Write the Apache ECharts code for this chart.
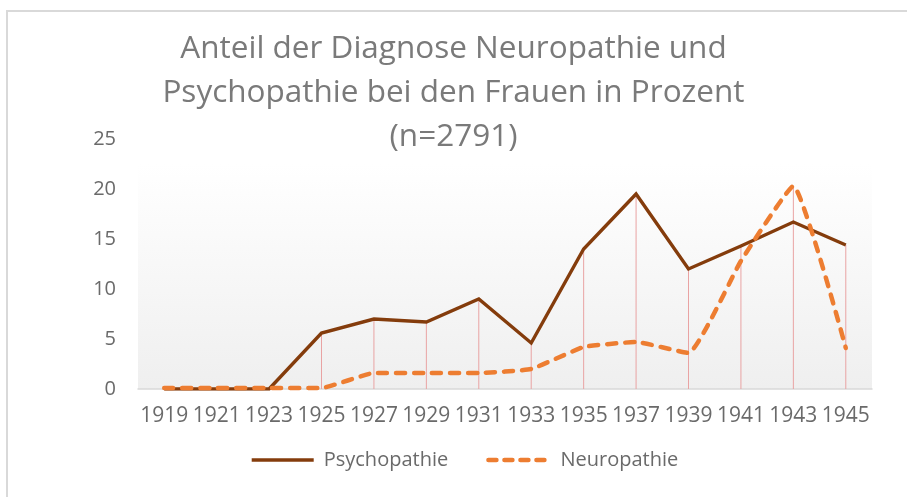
<!DOCTYPE html>
<html>
<head>
<meta charset="utf-8">
<script src="https://cdn.jsdelivr.net/npm/echarts@6/dist/echarts.min.js"></script>
<style>
html,body{margin:0;padding:0;background:#fff;}
#chart{width:907px;height:497px;}
</style>
</head>
<body>
<div id="chart"></div>
<script>
const titleText = 'Anteil der Diagnose Neuropathie und\nPsychopathie bei den Frauen in Prozent\n(n=2791)';
const years = ['1919','1921','1923','1925','1927','1929','1931','1933','1935','1937','1939','1941','1943','1945'];
const psychopathie = [0, 0, 0, 5.6, 7.0, 6.7, 9.0, 4.6, 14.0, 19.5, 12.0, 14.3, 16.7, 14.4];
const neuropathie = [0.1, 0.1, 0.1, 0.1, 1.6, 1.6, 1.6, 2.0, 4.2, 4.7, 3.6, 12.8, 20.3, 4.1];
const yTicks = [0, 5, 10, 15, 20, 25];

const dropLines = years.map((y, i) => Math.max(psychopathie[i], neuropathie[i]));
const FONT = '"Open Sans", "Liberation Sans", sans-serif';

const chart = echarts.init(document.getElementById('chart'), null, {renderer: 'canvas'});
chart.setOption({
  backgroundColor: '#ffffff',
  animation: false,
  graphic: [{
    type: 'rect',
    shape: {x: 7, y: 11, width: 920, height: 500},
    style: {fill: 'none', stroke: '#d9d9d9', lineWidth: 2},
    silent: true,
    z: -1
  }],
  title: {
    text: titleText,
    left: 'center',
    top: 22,
    textStyle: {
      fontFamily: FONT,
      fontSize: 31.5,
      fontWeight: 'normal',
      color: '#7a7a7a',
      lineHeight: 44
    }
  },
  legend: {
    data: [
      {name: 'Psychopathie', lineStyle: {width: 3.4}},
      {name: 'Neuropathie', lineStyle: {width: 4.5, type: [8, 8], cap: 'round'}}
    ],
    bottom: 22,
    left: 245,
    itemWidth: 62,
    itemHeight: 14,
    itemGap: 38,
    itemStyle: {opacity: 0},
    textStyle: {fontFamily: FONT, fontSize: 20, color: '#6a6a6a', padding: [0, 0, 0, 5]}
  },
  grid: {left: 138, right: 35, top: 139, bottom: 108, containLabel: false,
    show: true, borderWidth: 0,
    backgroundColor: {
      type: 'linear', x: 0, y: 0, x2: 0, y2: 1,
      colorStops: [{offset: 0, color: '#ffffff'}, {offset: 0.1, color: '#ffffff'}, {offset: 1, color: '#efefef'}]
    }
  },
  xAxis: {
    type: 'category',
    data: years,
    boundaryGap: true,
    axisLine: {show: true, lineStyle: {color: '#d9d9d9', width: 1.5}},
    axisTick: {show: false},
    axisLabel: {interval: 0, fontFamily: FONT, fontSize: 21, color: '#6a6a6a', margin: 17}
  },
  yAxis: {
    type: 'value',
    min: yTicks[0],
    max: yTicks[yTicks.length - 1],
    interval: 5,
    axisLine: {show: false},
    axisTick: {show: false},
    splitLine: {show: false},
    axisLabel: {fontFamily: FONT, fontSize: 20, color: '#6a6a6a', margin: 22}
  },
  series: [
    {
      name: 'drop',
      type: 'bar',
      data: dropLines,
      barWidth: 1,
      silent: true,
      itemStyle: {color: '#e9a3a3'},
      z: 1
    },
    {
      name: 'Psychopathie',
      type: 'line',
      data: psychopathie,
      showSymbol: false,
      symbol: 'none',
      lineStyle: {color: '#843c0c', width: 3.4, join: 'miter'},
      itemStyle: {color: '#843c0c'},
      z: 3
    },
    {
      name: 'Neuropathie',
      type: 'line',
      data: neuropathie,
      smooth: 0.12,
      showSymbol: false,
      symbol: 'none',
      lineStyle: {color: '#ed7d31', width: 4.5, type: [9, 9], cap: 'round'},
      itemStyle: {color: '#ed7d31'},
      z: 4
    }
  ]
});
</script>
</body>
</html>
